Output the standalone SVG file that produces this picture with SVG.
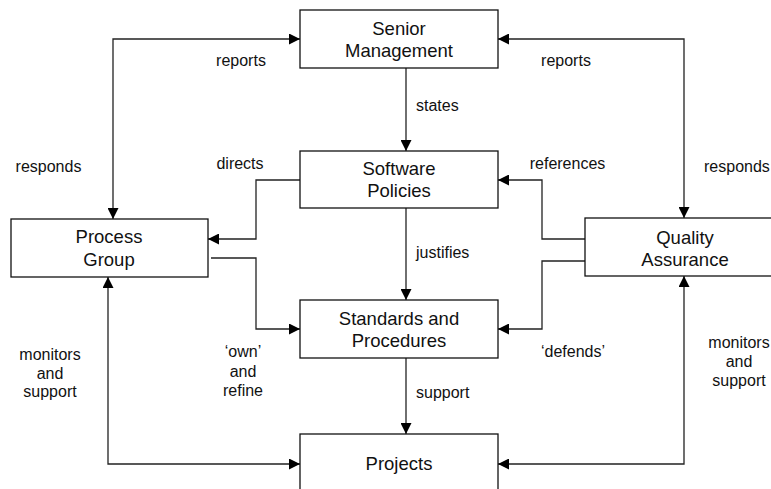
<svg xmlns="http://www.w3.org/2000/svg" width="771" height="489" viewBox="0 0 771 489">
<style>
.box{fill:#fff;stroke:#111;stroke-width:1.3}
.bt{font-family:"Liberation Sans",Arial,sans-serif;font-size:18.5px;fill:#111;text-anchor:middle}
.lb{font-family:"Liberation Sans",Arial,sans-serif;font-size:16px;fill:#111}
.c{text-anchor:middle}
.ln{fill:none;stroke:#222;stroke-width:1.3}
</style>
<defs>
<marker id="ah" markerUnits="userSpaceOnUse" markerWidth="11" markerHeight="11" refX="11" refY="5.5" orient="auto-start-reverse">
<path d="M0,0 L11,5.5 L0,11 z" fill="#000"/>
</marker>
</defs>
<rect width="771" height="489" fill="#fff"/>
<g id="connectors">
<path class="ln" d="M113,219 V39 H300" marker-start="url(#ah)" marker-end="url(#ah)"/>
<path class="ln" d="M684,218 V39 H498" marker-start="url(#ah)" marker-end="url(#ah)"/>
<path class="ln" d="M406,68 V151" marker-end="url(#ah)"/>
<path class="ln" d="M406,208 V300" marker-end="url(#ah)"/>
<path class="ln" d="M406,358 V434" marker-end="url(#ah)"/>
<path class="ln" d="M300,180 H256 V239 H208" marker-end="url(#ah)"/>
<path class="ln" d="M211,258 H256 V329 H300" marker-end="url(#ah)"/>
<path class="ln" d="M585,239 H542 V180 H498" marker-end="url(#ah)"/>
<path class="ln" d="M585,261 H542 V329 H498" marker-end="url(#ah)"/>
<path class="ln" d="M108,277 V464 H300" marker-start="url(#ah)" marker-end="url(#ah)"/>
<path class="ln" d="M684,276 V464 H498" marker-start="url(#ah)" marker-end="url(#ah)"/>
</g>
<g id="senior-management">
<rect class="box" x="300" y="10" width="198" height="58"/>
<text class="bt" x="399" y="35">Senior</text>
<text class="bt" x="399" y="57">Management</text>
</g>
<g id="software-policies">
<rect class="box" x="300" y="151" width="198" height="57"/>
<text class="bt" x="399" y="175">Software</text>
<text class="bt" x="399" y="197">Policies</text>
</g>
<g id="process-group">
<rect class="box" x="11" y="219" width="197" height="58"/>
<text class="bt" x="109" y="243">Process</text>
<text class="bt" x="109" y="265.5">Group</text>
</g>
<g id="quality-assurance">
<rect class="box" x="585" y="218" width="198" height="58"/>
<text class="bt" x="685" y="243.5">Quality</text>
<text class="bt" x="685" y="265.5">Assurance</text>
</g>
<g id="standards-procedures">
<rect class="box" x="300" y="300" width="198" height="58"/>
<text class="bt" x="399" y="325">Standards and</text>
<text class="bt" x="399" y="347">Procedures</text>
</g>
<g id="projects">
<rect class="box" x="300" y="434" width="198" height="70"/>
<text class="bt" x="399" y="470">Projects</text>
</g>
<g id="labels">
<text class="lb c" x="241" y="66">reports</text>
<text class="lb c" x="566" y="66">reports</text>
<text class="lb" x="416" y="111">states</text>
<text class="lb c" x="48.5" y="172">responds</text>
<text class="lb c" x="240" y="169">directs</text>
<text class="lb c" x="567.5" y="169">references</text>
<text class="lb" x="704" y="172">responds</text>
<text class="lb" x="416" y="258">justifies</text>
<text class="lb c" x="50" y="360">monitors</text>
<text class="lb c" x="50" y="379">and</text>
<text class="lb c" x="50" y="397">support</text>
<text class="lb c" x="243" y="357">‘own’</text>
<text class="lb c" x="243" y="376.5">and</text>
<text class="lb c" x="243" y="395.5">refine</text>
<text class="lb c" x="573" y="357">‘defends’</text>
<text class="lb" x="416" y="398">support</text>
<text class="lb c" x="739" y="348">monitors</text>
<text class="lb c" x="739" y="367">and</text>
<text class="lb c" x="739" y="386">support</text>
</g>
</svg>
